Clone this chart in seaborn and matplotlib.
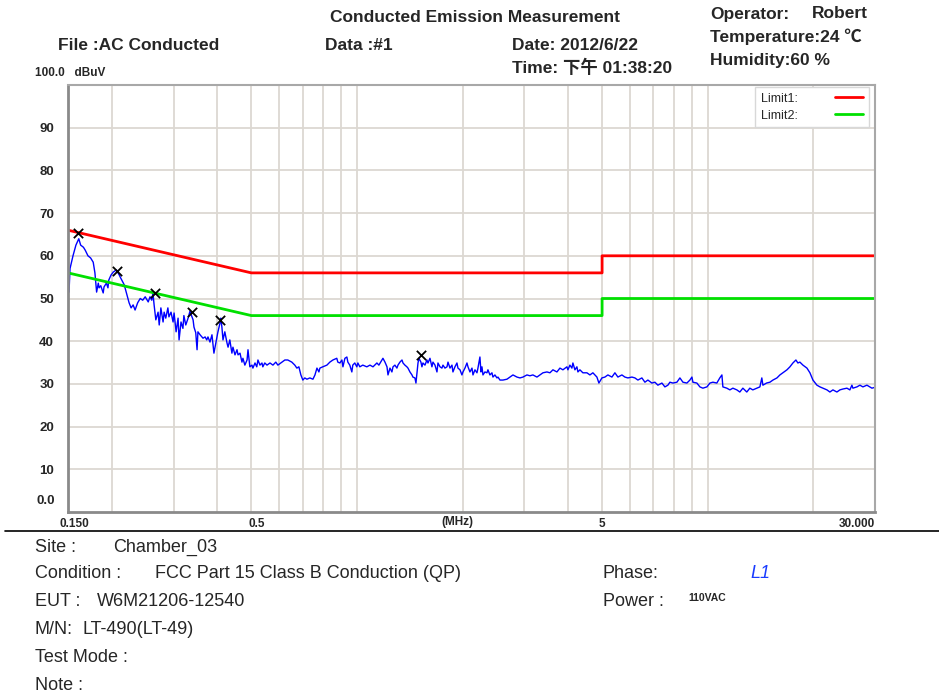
import pandas as pd
import matplotlib
matplotlib.use("Agg")
import matplotlib.pyplot as plt
import seaborn as sns
from matplotlib.lines import Line2D
from matplotlib.ticker import FixedLocator, NullFormatter
from matplotlib.transforms import ScaledTranslation

W, H = 939, 694

freq = [
    0.151, 0.152, 0.155, 0.158, 0.161, 0.163, 0.166, 0.168, 0.171, 0.174,
    0.177, 0.179, 0.181, 0.183, 0.184, 0.186, 0.189, 0.190, 0.193, 0.195,
    0.196, 0.199, 0.202, 0.206, 0.210, 0.212, 0.217, 0.221, 0.224, 0.227,
    0.230, 0.233, 0.237, 0.241, 0.245, 0.249, 0.254, 0.257, 0.260, 0.262,
    0.264, 0.267, 0.271, 0.273, 0.276, 0.280, 0.282, 0.285, 0.289, 0.291,
    0.295, 0.299, 0.301, 0.305, 0.309, 0.311, 0.315, 0.319, 0.321, 0.325,
    0.330, 0.334, 0.341, 0.343, 0.347, 0.350, 0.352, 0.357, 0.364, 0.369,
    0.373, 0.376, 0.381, 0.386, 0.391, 0.396, 0.401, 0.407, 0.409, 0.412,
    0.415, 0.420, 0.426, 0.429, 0.434, 0.440, 0.443, 0.449, 0.455, 0.458,
    0.464, 0.470, 0.473, 0.479, 0.486, 0.489, 0.495, 0.502, 0.505, 0.512,
    0.518, 0.522, 0.529, 0.536, 0.539, 0.546, 0.554, 0.565, 0.576, 0.587,
    0.595, 0.611, 0.623, 0.635, 0.652, 0.665, 0.674, 0.683, 0.692, 0.701,
    0.710, 0.720, 0.734, 0.749, 0.759, 0.769, 0.779, 0.784, 0.799, 0.821,
    0.837, 0.854, 0.876, 0.882, 0.894, 0.906, 0.912, 0.924, 0.936, 0.942,
    0.954, 0.967, 0.973, 0.986, 0.999, 1.006, 1.019, 1.039, 1.067, 1.089,
    1.111, 1.140, 1.155, 1.178, 1.186, 1.202, 1.218, 1.226, 1.242, 1.258,
    1.267, 1.283, 1.300, 1.309, 1.326, 1.344, 1.353, 1.370, 1.388, 1.398,
    1.416, 1.435, 1.444, 1.463, 1.473, 1.483, 1.493, 1.502, 1.522, 1.532,
    1.542, 1.563, 1.583, 1.594, 1.615, 1.636, 1.647, 1.669, 1.691, 1.702,
    1.725, 1.747, 1.759, 1.782, 1.806, 1.818, 1.842, 1.866, 1.878, 1.903,
    1.928, 1.941, 1.967, 1.992, 2.006, 2.032, 2.059, 2.073, 2.100, 2.128,
    2.142, 2.170, 2.199, 2.213, 2.242, 2.257, 2.272, 2.287, 2.317, 2.348,
    2.363, 2.394, 2.426, 2.442, 2.474, 2.507, 2.524, 2.557, 2.608, 2.677,
    2.730, 2.785, 2.859, 2.916, 2.974, 3.053, 3.113, 3.175, 3.260, 3.325,
    3.391, 3.481, 3.550, 3.621, 3.717, 3.791, 3.866, 3.969, 3.995, 4.048,
    4.101, 4.128, 4.183, 4.238, 4.266, 4.322, 4.408, 4.526, 4.616, 4.707,
    4.833, 4.896, 4.994, 5.093, 5.194, 5.333, 5.439, 5.547, 5.694, 5.808,
    5.923, 6.081, 6.202, 6.325, 6.493, 6.623, 6.754, 6.934, 7.072, 7.212,
    7.405, 7.552, 7.702, 7.804, 7.961, 8.172, 8.334, 8.500, 8.726, 8.899,
    9.017, 9.076, 9.317, 9.502, 9.691, 9.949, 10.15, 10.35, 10.62, 10.83,
    10.98, 11.05, 11.34, 11.57, 11.80, 12.11, 12.35, 12.60, 12.93, 13.19,
    13.45, 13.81, 14.09, 14.27, 14.37, 14.72, 15.05, 15.35, 15.76, 16.07,
    16.39, 16.83, 17.16, 17.50, 17.85, 18.08, 18.32, 18.69, 19.19, 19.57,
    19.96, 20.49, 20.90, 21.31, 21.88, 22.31, 22.76, 23.36, 23.83, 24.30,
    24.95, 25.44, 25.78, 25.95, 26.64, 27.17, 27.71, 28.45, 29.01, 29.40,
    30.0,
]
level = [
    51.5, 57.0, 60.0, 62.5, 64.0, 62.5, 62.0, 61.3, 60.0, 59.5,
    58.5, 56.0, 51.5, 53.6, 52.5, 53.0, 51.3, 52.7, 53.6, 52.5,
    54.3, 55.5, 56.2, 56.7, 55.5, 54.8, 53.2, 50.8, 49.0, 47.8,
    48.5, 47.3, 49.0, 50.0, 49.6, 50.4, 49.2, 50.4, 49.6, 51.3,
    48.5, 45.0, 46.8, 43.8, 47.8, 44.5, 46.8, 45.4, 47.8, 45.7,
    46.8, 44.5, 46.6, 42.2, 45.4, 40.3, 44.5, 43.0, 46.0, 43.8,
    45.4, 47.0, 45.0, 43.3, 42.0, 38.0, 42.2, 41.5, 40.7, 41.0,
    40.3, 41.0, 39.8, 41.5, 37.2, 39.6, 42.0, 44.3, 45.4, 43.3,
    40.3, 42.2, 39.6, 38.6, 40.3, 37.2, 38.6, 36.8, 38.0, 36.8,
    37.2, 35.1, 36.0, 34.4, 35.6, 38.0, 34.0, 34.4, 33.7, 34.9,
    34.0, 35.6, 34.4, 34.9, 34.0, 34.9, 34.4, 34.9, 34.4, 35.1,
    34.4, 35.1, 35.6, 35.6, 35.1, 34.4, 33.7, 34.0, 32.1, 30.9,
    31.4, 31.1, 31.4, 31.1, 32.1, 33.7, 32.8, 33.7, 34.0, 34.4,
    35.1, 35.6, 36.0, 35.1, 34.9, 35.6, 34.0, 36.0, 36.3, 35.1,
    34.4, 32.8, 34.4, 34.9, 34.0, 34.9, 34.0, 34.4, 34.0, 34.4,
    34.0, 34.9, 34.4, 35.6, 36.0, 35.1, 34.0, 32.1, 33.7, 32.8,
    34.0, 34.4, 33.7, 34.4, 35.1, 35.6, 34.9, 34.4, 34.0, 33.7,
    32.8, 32.1, 31.6, 31.4, 30.2, 32.6, 34.9, 36.0, 35.1, 34.0,
    34.9, 34.4, 35.6, 34.9, 36.0, 34.0, 35.1, 34.4, 32.8, 34.9,
    34.0, 33.7, 34.4, 33.7, 34.0, 35.1, 33.7, 34.4, 32.8, 34.0,
    34.9, 33.7, 33.3, 32.1, 32.8, 33.7, 34.9, 34.0, 32.8, 33.7,
    32.1, 33.3, 32.6, 33.7, 36.3, 32.8, 34.0, 32.1, 32.8, 32.6,
    33.3, 32.1, 32.6, 31.6, 32.1, 31.4, 31.6, 30.9, 30.9, 31.1,
    31.6, 32.1, 31.6, 31.4, 31.6, 32.1, 31.9, 32.1, 31.6, 32.1,
    32.6, 32.8, 32.6, 33.3, 32.8, 33.7, 33.3, 34.0, 33.3, 34.4,
    33.7, 34.9, 33.3, 34.0, 32.8, 33.3, 32.6, 32.6, 32.1, 32.6,
    31.6, 30.2, 31.4, 31.6, 32.1, 31.6, 32.6, 31.6, 32.1, 31.6,
    31.4, 31.6, 31.4, 30.9, 31.4, 30.4, 30.9, 30.2, 30.4, 29.7,
    30.2, 29.3, 29.7, 30.4, 30.2, 30.4, 31.4, 30.4, 30.2, 30.9,
    31.6, 30.4, 30.2, 29.3, 29.0, 29.3, 30.2, 30.4, 30.2, 31.4,
    32.1, 29.3, 29.0, 28.6, 29.0, 28.6, 28.1, 29.0, 28.1, 29.0,
    28.6, 29.0, 29.3, 31.4, 29.7, 30.2, 30.4, 30.9, 31.4, 32.1,
    32.6, 33.3, 34.0, 34.9, 35.6, 34.9, 35.1, 34.4, 33.7, 32.6,
    30.9, 29.7, 29.3, 29.0, 28.6, 28.1, 28.6, 28.1, 28.6, 28.8,
    29.0, 28.6, 29.7, 29.0, 29.3, 29.7, 29.3, 29.7, 29.3, 29.0,
    29.2,
]

# marked peaks
peak_freq = [0.160, 0.207, 0.265, 0.339, 0.406, 1.52]
peak_level = [65.3, 56.4, 51.3, 46.8, 45.0, 36.8]

# FCC Part 15 class B limit lines
limit_freq = [0.15, 0.5, 5, 5, 30]
limit1 = [66, 56, 56, 60, 60]
limit2 = [56, 46, 46, 50, 50]

y_ticks = [10, 20, 30, 40, 50, 60, 70, 80, 90]
x_grid = [0.2, 0.3, 0.4, 0.6, 0.7, 0.8, 0.9, 1, 2, 3, 4, 6, 7, 8, 9, 10, 20]
x_ticks = [0.15, 0.5, 5, 30]
x_labels = ["0.150", "0.5", "5", "30.000"]

sns.set_style("white")
plt.rcParams["font.family"] = ["Liberation Sans", "Noto Sans CJK SC", "DejaVu Sans"]

fig = plt.figure(figsize=(W / 100, H / 100), dpi=100)
ax = fig.add_axes([68 / W, 1 - 512 / H, (875 - 68) / W, (512 - 85) / H])
ax.set_xscale("log")

trace = pd.DataFrame({"freq": freq, "level": level})
limits = pd.DataFrame({"freq": limit_freq, "Limit1": limit1, "Limit2": limit2})
peaks = pd.DataFrame({"freq": peak_freq, "level": peak_level})

sns.lineplot(data=trace, x="freq", y="level", color="#0000ff", lw=1.0,
             sort=False, estimator=None, ax=ax)
sns.lineplot(data=limits, x="freq", y="Limit1", color="#ff0000", lw=2,
             sort=False, estimator=None, label="Limit1:", ax=ax)
sns.lineplot(data=limits, x="freq", y="Limit2", color="#00e000", lw=2,
             sort=False, estimator=None, label="Limit2:", ax=ax)
sns.scatterplot(data=peaks, x="freq", y="level", marker="x", color="black",
                s=45, linewidth=1.3, zorder=5, ax=ax)

ax.set_xlim(0.15, 30)
ax.set_ylim(0, 100)
ax.set_xlabel("")
ax.set_ylabel("")

ax.set_xticks(x_ticks)
ax.set_xticklabels(x_labels, fontsize=8.5, fontweight="bold")
ax.xaxis.set_minor_locator(FixedLocator(x_grid))
ax.xaxis.set_minor_formatter(NullFormatter())
ax.set_yticks(y_ticks)
ax.set_yticklabels([str(v) for v in y_ticks], fontsize=9.5, fontweight="bold")
ax.tick_params(which="both", length=0)
ax.tick_params(axis="y", pad=10)
ax.tick_params(axis="x", pad=4)
ax.grid(which="both", color="#dcd8d2", lw=1.3)
ax.set_axisbelow(True)

xt = ax.get_xticklabels()
xt[0].set_transform(xt[0].get_transform() + ScaledTranslation(0.06, 0, fig.dpi_scale_trans))
xt[1].set_transform(xt[1].get_transform() + ScaledTranslation(0.05, 0, fig.dpi_scale_trans))
xt[-1].set_horizontalalignment("right")

for side in ["left", "bottom"]:
    ax.spines[side].set_color("#8a8a8a")
    ax.spines[side].set_linewidth(2)
for side in ["top", "right"]:
    ax.spines[side].set_color("#a8a8a8")
    ax.spines[side].set_linewidth(1.5)

leg = ax.legend(loc="upper right", markerfirst=False, fancybox=False,
                edgecolor="#d8d8d8", framealpha=1, fontsize=9,
                handlelength=2.2, handletextpad=3.0, borderpad=0.45,
                labelspacing=0.4, borderaxespad=0,
                bbox_to_anchor=(0.992, 0.995))
leg.get_frame().set_linewidth(1)


def put(x, y, s, **kw):
    fig.text(x / W, 1 - y / H, s, va="center", **kw)


# header
hdr = dict(fontsize=12.5, fontweight="bold")
put(330, 17, "Conducted Emission Measurement", **hdr)
put(58, 45, "File :AC Conducted", **hdr)
put(325, 45, "Data :#1", **hdr)
put(512, 45, "Date: 2012/6/22", **hdr)
put(512, 67, "Time: 下午 01:38:20", **hdr)
put(710, 14, "Operator:", **hdr)
put(812, 14, "Robert", **hdr)
put(710, 37, "Temperature:24 ℃", **hdr)
put(710, 61, "Humidity:60 %", **hdr)
put(35, 73, "100.0   dBuV", fontsize=8.5, fontweight="bold")
put(55, 501, "0.0", fontsize=9.5, fontweight="bold", ha="right")
put(457, 522, "(MHz)", fontsize=8.5, fontweight="bold", ha="center")

fig.add_artist(Line2D([5 / W, 1], [1 - 531 / H, 1 - 531 / H],
                      color="black", lw=1.2, transform=fig.transFigure))

# footer
ftr = dict(fontsize=13)
put(35, 547, "Site :", **ftr)
put(113, 547, "Chamber_03", **ftr)
put(35, 573, "Condition :", **ftr)
put(155, 573, "FCC Part 15 Class B Conduction (QP)", **ftr)
put(35, 601, "EUT :", **ftr)
put(97, 601, "W6M21206-12540", **ftr)
put(35, 630, "M/N:", **ftr)
put(83, 630, "LT-490(LT-49)", **ftr)
put(35, 657, "Test Mode :", **ftr)
put(35, 685, "Note :", **ftr)
put(603, 573, "Phase:", **ftr)
put(750, 573, "L1", fontsize=13, color="#1a3cff", style="italic")
put(603, 601, "Power :", **ftr)
put(688, 598, "110VAC", fontsize=7.5, fontweight="bold")

fig.savefig("out.png", dpi=100)
